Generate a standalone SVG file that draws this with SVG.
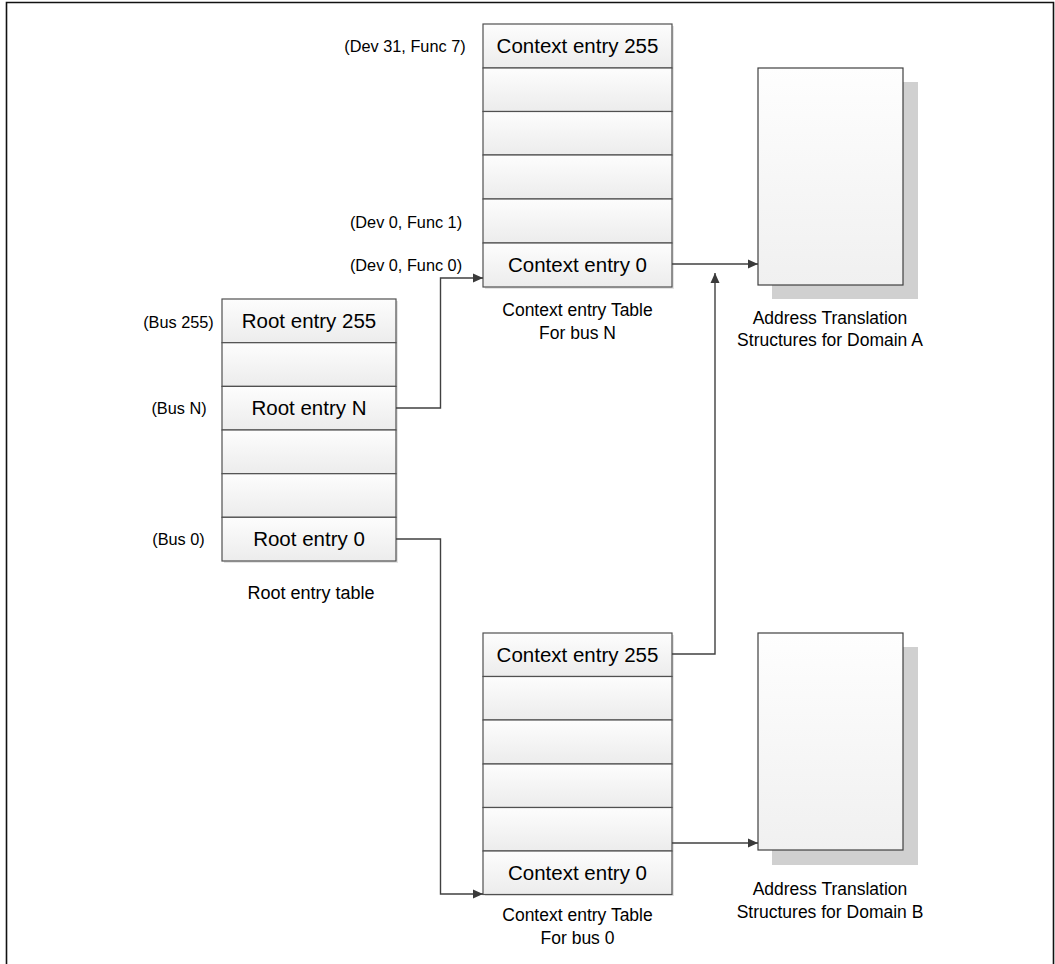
<svg xmlns="http://www.w3.org/2000/svg" width="1055" height="964" viewBox="0 0 1055 964">
<defs>
  <linearGradient id="rowGrad" x1="0" y1="0" x2="0" y2="1">
    <stop offset="0" stop-color="#fdfdfd"/>
    <stop offset="1" stop-color="#ececec"/>
  </linearGradient>
  <linearGradient id="boxGrad" x1="0" y1="0" x2="0" y2="1">
    <stop offset="0" stop-color="#fefefe"/>
    <stop offset="1" stop-color="#f0f0f0"/>
  </linearGradient>
  <marker id="arrow" viewBox="0 0 10 10" refX="10" refY="5" markerWidth="10" markerHeight="10" markerUnits="userSpaceOnUse" orient="auto">
    <path d="M0,0.5 L10,5 L0,9.5 Z" fill="#3a3a3a"/>
  </marker>
</defs>
<style>
  .row { fill: url(#rowGrad); stroke: #505050; stroke-width: 1.2; }
  .rowshadow { fill: #e4e4e4; }
  .box { fill: url(#boxGrad); stroke: #404040; stroke-width: 1.2; }
  .boxshadow { fill: #d0d0d0; }
  .big { font-family: "Liberation Sans", Arial, sans-serif; font-size: 20.5px; fill: #000; text-anchor: middle; }
  .side { font-family: "Liberation Sans", Arial, sans-serif; font-size: 16.3px; fill: #000; text-anchor: middle; }
  .cap { font-family: "Liberation Sans", Arial, sans-serif; font-size: 17.5px; fill: #000; text-anchor: middle; }
  .conn { fill: none; stroke: #404040; stroke-width: 1.4; }
  .frame { fill: none; stroke: #111; stroke-width: 1.6; }
</style>

<rect width="1055" height="964" fill="#ffffff"/>
<path class="frame" d="M6.5,970 L6.5,2.5 L1053.5,2.5 L1053.5,970"/>

<!-- Top context table (bus N) -->
<g id="ctxN">
  <rect class="rowshadow" x="485" y="26" width="189" height="263"/>
  <rect class="row" x="483" y="24" width="189" height="44"/>
  <rect class="row" x="483" y="68" width="189" height="43.5"/>
  <rect class="row" x="483" y="111.5" width="189" height="43.5"/>
  <rect class="row" x="483" y="155" width="189" height="44"/>
  <rect class="row" x="483" y="199" width="189" height="44"/>
  <rect class="row" x="483" y="243" width="189" height="44"/>
  <text class="big" x="577.5" y="53">Context entry 255</text>
  <text class="big" x="577.5" y="272">Context entry 0</text>
  <text class="cap" x="577.5" y="316">Context entry Table</text>
  <text class="cap" x="577.5" y="339">For bus N</text>
</g>
<g id="ctxN-labels">
  <text class="side" x="405" y="52">(Dev 31, Func 7)</text>
  <text class="side" x="406" y="228">(Dev 0, Func 1)</text>
  <text class="side" x="406" y="271">(Dev 0, Func 0)</text>
</g>

<!-- Root entry table -->
<g id="root">
  <rect class="rowshadow" x="224" y="301" width="174" height="262"/>
  <rect class="row" x="222" y="299" width="174" height="43.7"/>
  <rect class="row" x="222" y="342.7" width="174" height="43.7"/>
  <rect class="row" x="222" y="386.4" width="174" height="43.6"/>
  <rect class="row" x="222" y="430" width="174" height="43.7"/>
  <rect class="row" x="222" y="473.7" width="174" height="43.6"/>
  <rect class="row" x="222" y="517.3" width="174" height="43.7"/>
  <text class="big" x="309" y="328">Root entry 255</text>
  <text class="big" x="309" y="415">Root entry N</text>
  <text class="big" x="309" y="546">Root entry 0</text>
  <text class="cap" x="311" y="599" style="font-size:18px">Root entry table</text>
</g>
<g id="root-labels">
  <text class="side" x="178.5" y="328">(Bus 255)</text>
  <text class="side" x="179" y="414">(Bus N)</text>
  <text class="side" x="178.5" y="545">(Bus 0)</text>
</g>

<!-- Bottom context table (bus 0) -->
<g id="ctx0">
  <rect class="rowshadow" x="485" y="635" width="189" height="261"/>
  <rect class="row" x="483" y="633" width="189" height="43.5"/>
  <rect class="row" x="483" y="676.5" width="189" height="43.5"/>
  <rect class="row" x="483" y="720" width="189" height="44"/>
  <rect class="row" x="483" y="764" width="189" height="43.5"/>
  <rect class="row" x="483" y="807.5" width="189" height="43.5"/>
  <rect class="row" x="483" y="851" width="189" height="43.5"/>
  <text class="big" x="577.5" y="662">Context entry 255</text>
  <text class="big" x="577.5" y="880">Context entry 0</text>
  <text class="cap" x="577.5" y="921">Context entry Table</text>
  <text class="cap" x="577.5" y="944">For bus 0</text>
</g>

<!-- Domain A -->
<g id="domainA">
  <rect class="boxshadow" x="772" y="82" width="146" height="217"/>
  <rect class="box" x="758" y="68" width="145" height="217"/>
  <text class="cap" x="830" y="324">Address Translation</text>
  <text class="cap" x="830" y="346">Structures for Domain A</text>
</g>

<!-- Domain B -->
<g id="domainB">
  <rect class="boxshadow" x="772" y="647" width="146" height="218"/>
  <rect class="box" x="758" y="633" width="145" height="217"/>
  <text class="cap" x="830" y="895">Address Translation</text>
  <text class="cap" x="830" y="918">Structures for Domain B</text>
</g>

<!-- Connectors -->
<g id="connectors">
  <path class="conn" d="M396,408 L440.5,408 L440.5,278 L483,278" marker-end="url(#arrow)"/>
  <path class="conn" d="M396,539 L440.5,539 L440.5,894 L483,894" marker-end="url(#arrow)"/>
  <path class="conn" d="M672,264 L758,264" marker-end="url(#arrow)"/>
  <path class="conn" d="M672,654 L715,654 L715,273" marker-end="url(#arrow)"/>
  <path class="conn" d="M672,843 L758,843" marker-end="url(#arrow)"/>
</g>
</svg>
